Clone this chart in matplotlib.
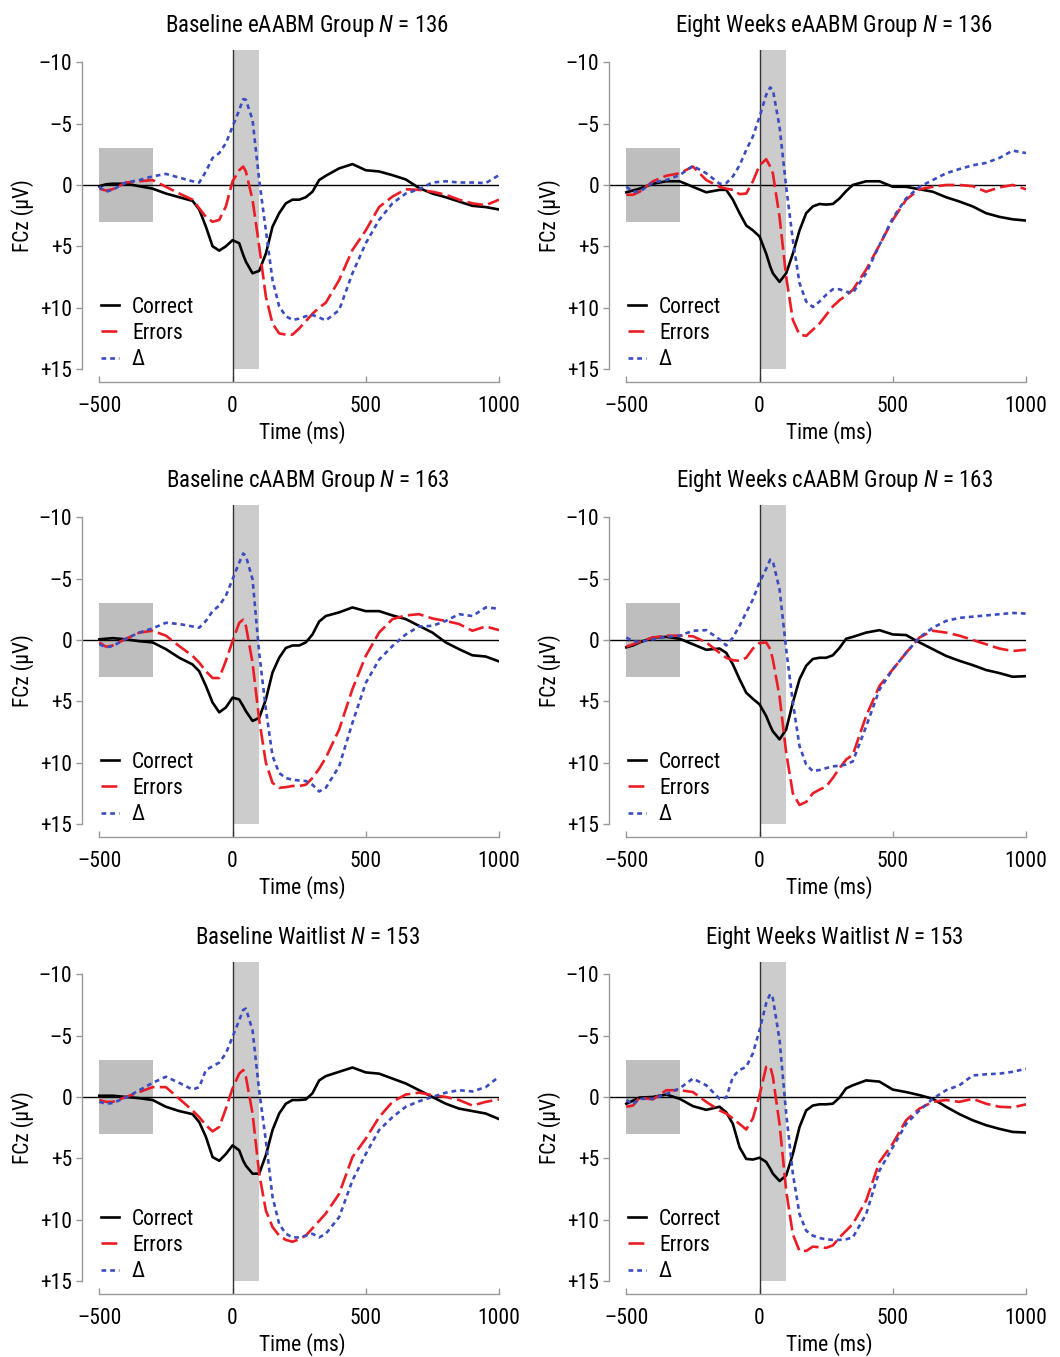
import matplotlib
matplotlib.use('Agg')
import matplotlib.pyplot as plt
from matplotlib import font_manager
from matplotlib.lines import Line2D
from matplotlib.patches import Rectangle

# pick a narrow sans if there is one
names = {f.name for f in font_manager.fontManager.ttflist}
FONT = next(n for n in ['Liberation Sans Narrow', 'Roboto Condensed',
                        'Liberation Sans', 'DejaVu Sans'] if n in names)
plt.rcParams['font.family'] = [FONT, 'DejaVu Sans']
plt.rcParams['mathtext.fontset'] = 'custom'
plt.rcParams['mathtext.it'] = FONT + ':italic'
plt.rcParams['mathtext.rm'] = FONT

# time axis (ms), values in microvolts (positive is drawn downwards)
t = [-500, -475, -450, -400, -350, -300, -250, -200, -150, -125, -100, -75,
     -50, -25, 0, 25, 40, 50, 75, 100, 125, 150, 175, 200, 225, 250, 275,
     300, 325, 350, 400, 450, 500, 550, 600, 650, 700, 750, 800, 850, 900,
     950, 1000]

base_e_correct = [0.1, -0.05, -0.1, -0.1, 0.1, 0.3, 0.7, 1.0, 1.3, 2.0, 3.4,
                  5.0, 5.35, 5.0, 4.5, 4.75, 5.7, 6.25, 7.2, 7.0, 5.6, 3.4,
                  2.3, 1.5, 1.2, 1.2, 1.0, 0.55, -0.4, -0.75, -1.35, -1.7,
                  -1.2, -1.1, -0.8, -0.45, 0.25, 0.7, 1.0, 1.35, 1.7, 1.8, 2.0]
base_e_errors = [0.3, 0.45, 0.35, -0.2, -0.3, -0.4, 0.15, 0.7, 1.2, 1.9, 2.6,
                 3.0, 2.85, 1.75, -0.3, -1.2, -1.5, -1.1, 1.2, 5.0, 9.1, 11.3,
                 12.1, 12.2, 12.2, 11.7, 11.1, 10.5, 10.0, 9.6, 7.75, 5.3,
                 3.7, 1.8, 0.95, 0.35, 0.4, 0.55, 0.8, 1.2, 1.5, 1.65, 1.2]
base_e_delta = [0.15, 0.55, 0.4, -0.2, -0.4, -0.7, -0.9, -0.6, -0.3, -0.2,
                -1.1, -2.2, -2.6, -3.4, -4.75, -6.1, -7.0, -6.95, -5.3, -0.4,
                3.7, 7.75, 9.9, 10.7, 11.0, 10.9, 10.7, 10.6, 10.8, 11.05,
                10.2, 7.2, 4.75, 2.85, 1.5, 0.7, 0.35, -0.2, -0.3, -0.2,
                -0.2, -0.15, -0.8]

wk8_e_correct = [0.6, 0.45, 0.3, -0.1, -0.3, -0.3, 0.15, 0.6, 0.4, 0.4, 1.2,
                 2.3, 3.3, 3.7, 4.2, 5.6, 6.65, 7.2, 7.9, 7.2, 5.6, 3.7, 2.3,
                 1.75, 1.55, 1.6, 1.55, 1.1, 0.5, 0.0, -0.3, -0.3, 0.15, 0.15,
                 0.35, 0.55, 1.0, 1.35, 1.75, 2.3, 2.6, 2.8, 2.9]
wk8_e_errors = [0.8, 0.8, 0.55, -0.3, -0.75, -0.95, -1.5, -0.4, 0.15, 0.3,
                0.4, 0.75, 0.7, -0.3, -1.6, -2.1, -1.5, -0.95, 2.6, 7.5, 11.0,
                12.2, 12.3, 11.8, 11.3, 10.6, 9.9, 9.4, 9.0, 8.55, 6.9, 4.9,
                2.85, 1.2, 0.35, 0.15, 0.0, 0.0, 0.1, 0.55, 0.2, 0.0, 0.35]
wk8_e_delta = [0.15, 0.55, 0.55, -0.2, -0.4, -0.8, -1.55, -0.95, -0.1, -0.15,
               -0.7, -1.6, -2.85, -3.95, -5.55, -7.35, -7.95, -7.75, -4.75,
               0.15, 4.5, 8.0, 9.5, 9.95, 9.5, 8.95, 8.5, 8.5, 8.7, 8.8, 7.2,
               4.9, 2.7, 1.1, 0.15, -0.4, -0.95, -1.3, -1.6, -1.8, -2.2,
               -2.8, -2.6]

base_c_correct = [-0.05, -0.1, -0.15, -0.05, 0.1, 0.2, 0.75, 1.45, 2.0, 2.55,
                  3.75, 5.1, 5.9, 5.5, 4.7, 4.85, 5.4, 5.8, 6.6, 6.35, 4.85,
                  2.65, 1.45, 0.65, 0.45, 0.45, 0.2, -0.45, -1.5, -1.95,
                  -2.25, -2.65, -2.35, -2.35, -2.0, -1.7, -1.15, -0.6, 0.2,
                  0.75, 1.25, 1.35, 1.75]
base_c_errors = [0.2, 0.55, 0.45, -0.1, -0.6, -0.75, -0.35, 0.5, 1.3, 1.85,
                 2.55, 3.1, 3.1, 1.7, 0.1, -1.4, -1.65, -1.15, 1.85, 6.5, 10.0,
                 11.65, 12.05, 12.0, 11.9, 11.9, 11.8, 11.25, 10.5, 9.6, 7.3,
                 4.0, 1.3, -0.6, -1.7, -2.0, -2.1, -1.75, -1.55, -1.3, -0.75,
                 -1.1, -0.8]
base_c_delta = [0.35, 0.6, 0.5, -0.1, -0.6, -0.95, -1.4, -1.3, -1.1, -1.0,
                -1.55, -2.35, -2.8, -3.6, -4.95, -6.3, -7.05, -6.85, -4.95,
                1.05, 5.65, 9.45, 10.85, 11.25, 11.4, 11.45, 11.5, 11.8, 12.35,
                12.05, 10.3, 6.75, 3.5, 1.6, 0.5, -0.45, -1.1, -1.15, -1.55,
                -2.1, -1.95, -2.65, -2.55]

wk8_c_correct = [0.6, 0.45, 0.2, -0.2, -0.25, -0.1, 0.35, 0.8, 0.7, 1.05, 2.0,
                 3.2, 4.3, 4.8, 5.25, 6.2, 7.0, 7.45, 8.1, 7.3, 5.1, 3.2, 2.1,
                 1.55, 1.45, 1.45, 1.25, 0.65, -0.1, -0.25, -0.6, -0.8, -0.45,
                 -0.4, 0.2, 0.75, 1.3, 1.7, 2.05, 2.45, 2.7, 3.0, 2.95]
wk8_c_errors = [0.55, 0.35, 0.15, -0.2, -0.35, -0.35, -0.3, 0.2, 1.05, 1.45,
                1.65, 1.7, 1.45, 0.7, 0.25, 0.2, 0.75, 1.6, 4.6, 9.2, 12.5,
                13.45, 13.2, 12.5, 12.2, 11.95, 11.25, 10.45, 9.75, 9.35, 6.2,
                3.75, 2.4, 1.05, -0.2, -0.75, -0.6, -0.35, 0.0, 0.35, 0.7,
                0.9, 0.8]
wk8_c_delta = [-0.2, 0.1, 0.15, -0.05, -0.25, -0.35, -0.75, -0.8, -0.05, 0.45,
               -0.2, -1.15, -2.25, -3.3, -4.7, -5.8, -6.55, -6.4, -4.15, 0.75,
               5.1, 8.65, 10.15, 10.7, 10.6, 10.45, 10.3, 10.25, 10.15, 9.9,
               7.05, 4.05, 2.4, 1.05, -0.2, -1.0, -1.55, -1.8, -1.9, -2.0,
               -2.1, -2.2, -2.15]

base_w_correct = [-0.1, -0.1, -0.1, 0.0, 0.1, 0.25, 0.8, 1.15, 1.4, 2.05,
                  3.25, 4.9, 5.2, 4.65, 3.95, 4.35, 5.2, 5.6, 6.25, 6.25, 4.75,
                  2.7, 1.35, 0.55, 0.25, 0.25, 0.2, -0.3, -1.35, -1.7, -2.05,
                  -2.4, -2.0, -1.9, -1.5, -1.1, -0.55, 0.0, 0.55, 0.95, 1.15,
                  1.35, 1.8]
base_w_errors = [0.25, 0.4, 0.4, 0.0, -0.4, -0.8, -0.8, 0.15, 1.1, 1.65, 2.3,
                 2.8, 2.45, 0.95, -0.7, -1.9, -2.2, -1.65, 1.35, 6.25, 9.25,
                 10.6, 11.3, 11.65, 11.8, 11.6, 11.3, 10.7, 10.1, 9.5, 7.9,
                 4.9, 3.4, 1.65, 0.4, -0.2, -0.35, -0.15, 0.0, 0.25, 0.7,
                 0.4, 0.2]
base_w_delta = [0.4, 0.55, 0.5, 0.05, -0.55, -1.15, -1.65, -1.15, -0.6, -0.8,
                -2.2, -2.5, -2.8, -3.55, -4.9, -6.25, -7.1, -7.2, -5.45, -0.5,
                3.55, 8.15, 10.35, 11.15, 11.45, 11.45, 11.3, 11.15, 11.45,
                11.15, 9.8, 6.8, 4.65, 2.7, 1.65, 0.8, 0.35, 0.0, -0.35,
                -0.55, -0.45, -0.8, -1.65]

wk8_w_correct = [0.55, 0.3, 0.05, 0.0, -0.2, 0.15, 0.75, 1.05, 0.8, 1.25, 2.2,
                 4.1, 5.05, 5.1, 4.95, 5.3, 5.85, 6.25, 6.85, 6.4, 4.65, 2.45,
                 1.1, 0.7, 0.6, 0.6, 0.55, 0.05, -0.7, -0.95, -1.35, -1.25,
                 -0.6, -0.4, -0.15, 0.15, 0.8, 1.4, 1.9, 2.3, 2.6, 2.85, 2.9]
wk8_w_errors = [0.8, 0.7, 0.05, 0.2, -0.55, -0.55, -0.4, 0.4, 1.1, 1.35, 1.75,
                2.2, 2.65, 1.75, -0.15, -2.45, -2.5, -1.65, 2.2, 7.65, 11.2,
                12.55, 12.55, 12.2, 12.25, 12.3, 12.1, 11.45, 10.9, 10.35,
                8.45, 5.3, 3.8, 1.9, 0.95, 0.4, 0.25, 0.4, 0.15, 0.55, 0.8,
                0.85, 0.6]
wk8_w_delta = [0.25, 0.6, 0.15, 0.15, -0.25, -0.7, -1.5, -0.95, 0.15, 0.05,
               -1.65, -2.2, -2.45, -3.55, -5.45, -7.65, -8.4, -8.05, -4.65,
               1.35, 6.25, 9.55, 10.9, 11.3, 11.5, 11.6, 11.65, 11.65, 11.6,
               11.45, 9.55, 6.0, 4.1, 2.2, 1.1, 0.15, -0.55, -0.95, -1.75,
               -1.85, -1.9, -2.05, -2.3]

titles = ['Baseline eAABM Group $\\mathit{N}$ = 136',
          'Eight Weeks eAABM Group $\\mathit{N}$ = 136',
          'Baseline cAABM Group $\\mathit{N}$ = 163',
          'Eight Weeks cAABM Group $\\mathit{N}$ = 163',
          'Baseline Waitlist $\\mathit{N}$ = 153',
          'Eight Weeks Waitlist $\\mathit{N}$ = 153']
panels = [(base_e_correct, base_e_errors, base_e_delta),
          (wk8_e_correct, wk8_e_errors, wk8_e_delta),
          (base_c_correct, base_c_errors, base_c_delta),
          (wk8_c_correct, wk8_c_errors, wk8_c_delta),
          (base_w_correct, base_w_errors, base_w_delta),
          (wk8_w_correct, wk8_w_errors, wk8_w_delta)]

series_names = ['Correct', 'Errors', '\u0394']
xticks = [-500, 0, 500, 1000]
xticklabels = ['\u2013500', '0', '500', '1000']
yticks = [-10, -5, 0, 5, 10, 15]
yticklabels = ['\u201310', '\u20135', '0', '+5', '+10', '+15']

baseline_win = (-500, -300, -3, 3)   # t0, t1, v0, v1
ern_win = (0, 100, -11, 15)

RED = '#ec1c24'
BLUE = '#3b4cc0'
styles = [dict(color='black', lw=1.9, ls='-'),
          dict(color=RED, lw=1.9, ls=(0, (6, 2))),
          dict(color=BLUE, lw=1.9, ls=(0, (1.8, 1.5)))]

W, H = 1060, 1357
fig = plt.figure(figsize=(W / 100, H / 100), dpi=100)

col_left = [82, 609]
ax_w = 417
row_top = [50, 505, 962]
ax_h = 332

for i, (series, title) in enumerate(zip(panels, titles)):
    r, c = divmod(i, 2)
    ax = fig.add_axes([col_left[c] / W, 1 - (row_top[r] + ax_h) / H,
                       ax_w / W, ax_h / H])
    ax.set_xlim(-565, 1000)
    ax.set_ylim(16.06, -11)

    ax.add_patch(Rectangle((baseline_win[0], baseline_win[2]),
                           baseline_win[1] - baseline_win[0],
                           baseline_win[3] - baseline_win[2],
                           color='#bebebe', lw=0, zorder=1))
    ax.add_patch(Rectangle((ern_win[0], ern_win[2]),
                           ern_win[1] - ern_win[0], ern_win[3] - ern_win[2],
                           color='#cccccc', lw=0, zorder=1))
    ax.axhline(0, color='black', lw=1.0, zorder=2)
    ax.axvline(0, color='#333333', lw=1.0, zorder=2)

    for vals, st in zip(series, styles):
        ax.plot(t, vals, zorder=3, solid_joinstyle='round',
                dash_capstyle='butt', **st)

    for s in ['top', 'right']:
        ax.spines[s].set_visible(False)
    ax.spines['left'].set_bounds(-10, 15)
    ax.spines['bottom'].set_bounds(-500, 1000)
    for s in ['left', 'bottom']:
        ax.spines[s].set_color('#999999')
        ax.spines[s].set_linewidth(1.0)

    ax.set_xticks(xticks)
    ax.set_xticklabels(xticklabels)
    ax.set_yticks(yticks)
    ax.set_yticklabels(yticklabels)
    ax.tick_params(axis='x', direction='in', length=4, width=1,
                   color='#999999', pad=10, labelsize=15.5)
    ax.tick_params(axis='y', direction='out', length=4, width=1,
                   color='#999999', pad=3, labelsize=15.5)

    ax.set_xlabel('Time (ms)', fontsize=15.5)
    ax.xaxis.set_label_coords(0.528, -0.118)
    ax.set_ylabel('FCz (\u03bcV)', fontsize=15.5)
    ax.yaxis.set_label_coords(-0.115, 0.5)

    ax.text(0.54, 1.054, title, transform=ax.transAxes, ha='center',
            va='baseline', fontsize=16.5)

    handles = [Line2D([], [], **st) for st in styles]
    ax.legend(handles, series_names, loc='lower left',
              bbox_to_anchor=(0.045, 0.035), frameon=False, fontsize=15.5,
              handlelength=0.85, handletextpad=0.6, labelspacing=0.25,
              borderpad=0, borderaxespad=0)

fig.savefig('out.png', dpi=100)
